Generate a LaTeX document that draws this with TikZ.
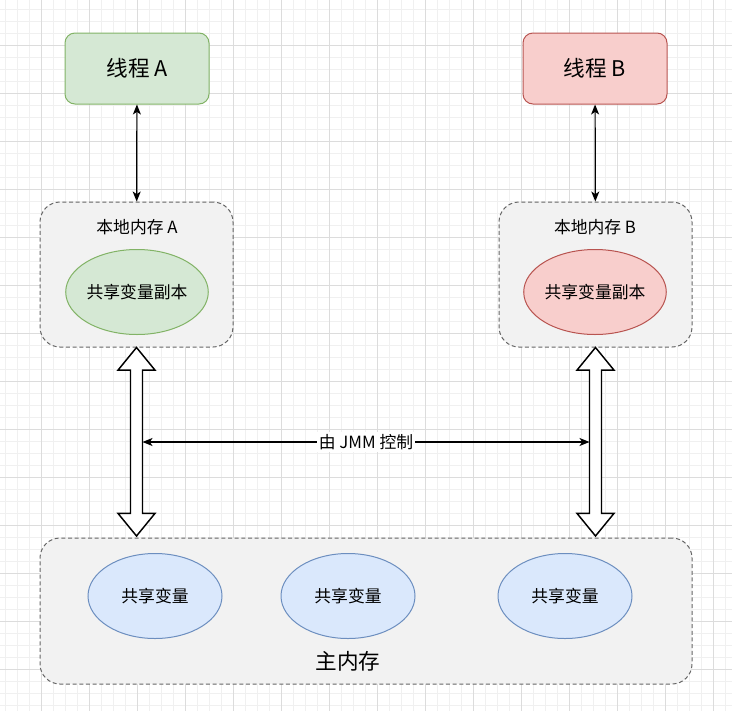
\documentclass[tikz,border=0pt]{standalone}
\usepackage{fontspec}
\setmainfont{Noto Sans CJK SC}
\usetikzlibrary{arrows.meta,calc,shapes.geometric}
\definecolor{greenFill}{HTML}{D5E8D4}
\definecolor{greenLine}{HTML}{82B366}
\definecolor{redFill}{HTML}{F8CECC}
\definecolor{redLine}{HTML}{B85450}
\definecolor{blueFill}{HTML}{DAE8FC}
\definecolor{blueLine}{HTML}{6C8EBF}
\definecolor{memFill}{HTML}{F2F2F2}
\definecolor{memLine}{HTML}{666666}
\definecolor{gridMinorColor}{HTML}{F0F0F0}
\definecolor{gridMajorColor}{HTML}{DCDCDC}
\newcommand{\fatArrow}[2]{%
  \draw[fatArrowLine] let \p1=(#1), \p2=(#2) in
    (\x1,\y1) -- (\x1+13.9pt,\y1-17pt) -- (\x1+4.5pt,\y1-17pt)
    -- (\x1+4.5pt,\y2+17pt) -- (\x1+13.9pt,\y2+17pt) -- (\x1,\y2)
    -- (\x1-13.9pt,\y2+17pt) -- (\x1-4.5pt,\y2+17pt)
    -- (\x1-4.5pt,\y1-17pt) -- (\x1-13.9pt,\y1-17pt) -- cycle;}

\begin{document}
\begin{tikzpicture}[x=0.75pt, y=-0.75pt]
  \tikzset{
    every node/.style={font=\fontsize{12.6}{15}\selectfont},
    gridMinor/.style={draw=gridMinorColor, line width=0.75pt},
    gridMajor/.style={draw=gridMajorColor, line width=0.75pt},
    thread/.style={draw, rounded corners=7.5pt, line width=0.75pt,
      minimum width=108pt, minimum height=53.25pt,
      font=\fontsize{16.2}{19}\selectfont},
    memBox/.style={draw=memLine, fill=memFill, dash pattern=on 3pt off 2pt,
      rounded corners=15pt, line width=0.75pt},
    shareVar/.style={draw, ellipse, inner sep=0pt, line width=0.75pt,
      minimum width=100.5pt, minimum height=63.75pt},
    thinArrow/.style={line width=0.9pt,
      {Stealth[length=7.5pt,width=6pt,inset=2pt]}-{Stealth[length=7.5pt,width=6pt,inset=2pt]}},
    fatArrowLine/.style={draw, fill=white, line width=1.1pt, line join=miter}
  }
  \useasboundingbox[fill=white] (0,0) rectangle (732,711);
  % background grid
  \foreach \i in {0,...,60} \draw[gridMinor] (5.5+12*\i,0) -- (5.5+12*\i,711);
  \foreach \j in {0,...,58} \draw[gridMinor] (0,9.3+12*\j) -- (732,9.3+12*\j);
  \foreach \i in {0,...,14} \draw[gridMajor] (41.5+48*\i,0) -- (41.5+48*\i,711);
  \foreach \j in {0,...,13} \draw[gridMajor] (0,45.3+48*\j) -- (732,45.3+48*\j);

  % threads
  \node[thread, draw=greenLine, fill=greenFill] (thrA) at (137,68.5) {线程 A};
  \node[thread, draw=redLine, fill=redFill] (thrB) at (595,68.5) {线程 B};

  % local memories
  \node[memBox, minimum width=144.75pt, minimum height=108.75pt] (memA) at (136.5,274.5) {};
  \node[memBox, minimum width=144.75pt, minimum height=108.75pt] (memB) at (595.5,274.5) {};
  \node (memALbl) at (137,227) {本地内存 A};
  \node (memBLbl) at (595,227) {本地内存 B};
  \node[shareVar, draw=greenLine, fill=greenFill] (copyA) at (137,292) {共享变量副本};
  \node[shareVar, draw=redLine, fill=redFill] (copyB) at (595,292) {共享变量副本};

  % main memory
  \node[memBox, minimum width=489pt, minimum height=109.5pt] (main) at (366,611) {};
  \node[shareVar, draw=blueLine, fill=blueFill] (varA) at (155,596) {共享变量};
  \node[shareVar, draw=blueLine, fill=blueFill] (varB) at (348,596) {共享变量};
  \node[shareVar, draw=blueLine, fill=blueFill] (varC) at (565,596) {共享变量};
  \node[font=\fontsize{16.2}{19}\selectfont] (mainLbl) at (348,661) {主内存};

  % arrows
  \draw[thinArrow] (thrA) -- (memA);
  \draw[thinArrow] (thrB) -- (memB);
  \coordinate (mainA) at (136.5,536);
  \coordinate (mainB) at (595.5,536);
  \fatArrow{memA.south}{mainA}
  \fatArrow{memB.south}{mainB}
  \coordinate (jmmL) at (142.5,442);
  \coordinate (jmmR) at (589.5,442);
  \draw[thinArrow] (jmmL) -- node[fill=white, inner sep=1.5pt] (jmmLbl) {由 JMM 控制} (jmmR);
\end{tikzpicture}
\end{document}
